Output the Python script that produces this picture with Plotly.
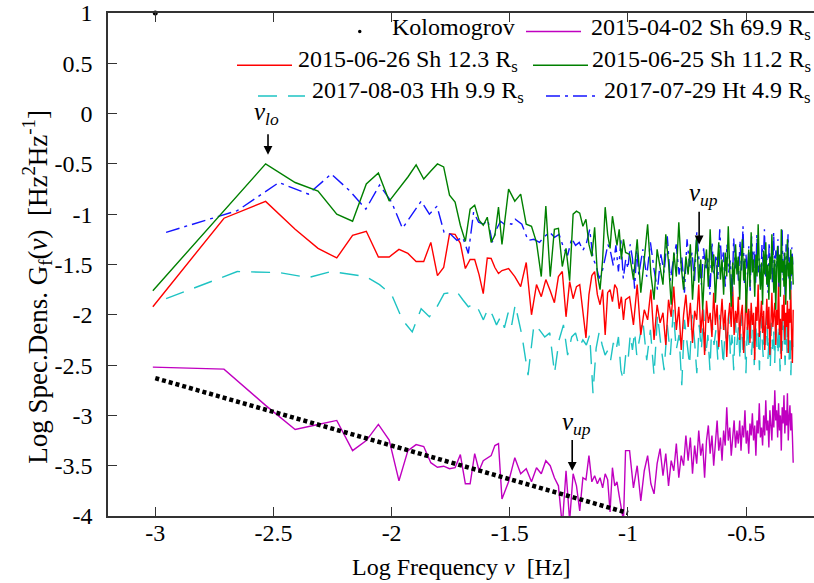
import numpy as np
import plotly.graph_objects as go

# ---------------- data ----------------
# frequency bins: f = k * df  (2015 sets: df = 1/1024 Hz, 2017 sets: df = 1/900 Hz)
K_A = list(range(1, 31)) + list(range(32, 101, 2)) + list(range(104, 513, 4))
K_B = list(range(1, 31)) + list(range(32, 101, 2)) + list(range(104, 451, 4))
DF_A = 1.0 / 1024
DF_B = 1.0 / 900

green_y = [-1.76, -0.97, -0.50, -0.685, -0.77, -1.00, -1.07, -0.70, -0.59, -0.87,
           -0.75, -0.63, -0.51, -0.65, -0.57, -0.50, -0.53, -0.81, -0.88, -1.11,
           -1.27, -0.95, -0.91, -1.06, -1.11, -1.03, -1.28, -1.21, -0.93, -1.30,
           -0.75, -0.87, -0.80, -1.10, -1.12, -1.28, -1.62, -0.92, -1.62, -1.15,
           -1.14, -1.52, -1.34, -1.66, -1.00, -0.97, -0.99, -1.12, -1.05, -1.30,
           -1.42, -1.13, -1.60, -1.75, -1.45, -0.93, -1.20, -1.34, -1.02, -1.15,
           -1.31, -1.15, -1.45, -1.25, -1.38,
           -1.40, -1.65, -1.25, -1.78, -1.45, -1.10, -1.60, -1.85, -1.35, -1.55,
           -1.70, -1.20, -1.48, -1.90, -1.38, -1.62, -1.08, -1.52, -1.75, -1.42,
           -1.60, -1.30, -1.85, -1.50, -1.22, -1.68, -1.45, -1.95, -1.55, -1.35,
           -1.72, -1.15, -1.58, -1.40, -1.88, -1.52, -1.28, -1.65, -1.45, -1.80,
           -1.38, -1.62, -1.12, -1.55, -1.92, -1.48, -1.70, -1.30, -1.60, -1.42,
           -1.85, -1.50, -1.25, -1.66, -1.44, -1.98, -1.55, -1.35, -1.72, -1.18,
           -1.58, -1.45, -1.82, -1.40, -1.62, -1.10, -1.52, -1.75, -1.48, -1.90,
           -1.36, -1.60, -1.28, -1.70, -1.50, -1.85, -1.42, -1.65, -1.20, -1.55,
           -1.78, -1.45, -1.95, -1.52, -1.32, -1.68, -1.40, -1.82, -1.15, -1.58,
           -1.46, -1.72, -1.38, -1.90, -1.55, -1.25, -1.62, -1.48, -1.85, -1.35,
           -1.60, -1.42, -1.70]

red_y = [-1.92, -1.04, -0.873, -1.15, -1.34, -1.435, -1.21, -1.17, -1.425, -1.425,
         -1.35, -1.39, -1.47, -1.47, -1.28, -1.61, -1.53, -1.195, -1.20, -1.29,
         -1.54, -1.45, -1.45, -1.60, -1.79, -1.435, -1.44, -1.53, -1.59, -1.56,
         -1.54, -1.62, -1.72, -1.48, -2.00, -1.70, -1.82, -1.65, -1.76, -1.88,
         -1.62, -1.57, -2.02, -1.67, -1.84, -1.72, -1.70, -1.98, -2.23, -1.80,
         -1.61, -1.57, -1.80, -1.90, -1.75, -2.20, -1.78, -1.75, -1.87, -1.70,
         -1.74, -1.94, -1.82, -2.05, -1.85,
         -1.82, -2.10, -1.70, -2.20, -1.95, -2.05, -1.75, -2.25, -1.90, -2.08,
         -1.98, -2.30, -1.85, -2.02, -1.72, -2.15, -1.92, -2.35, -2.00, -1.80,
         -2.12, -1.88, -2.28, -1.96, -2.05, -1.70, -2.18, -1.94, -2.40, -1.86,
         -2.08, -1.98, -2.22, -1.78, -2.10, -1.90, -2.32, -2.02, -1.84, -2.15,
         -1.95, -2.42, -2.05, -1.88, -2.12, -1.72, -2.20, -1.96, -2.08, -1.82,
         -2.25, -2.00, -1.90, -2.38, -2.04, -1.76, -2.15, -1.94, -2.28, -1.88,
         -2.10, -1.98, -2.45, -1.92, -2.06, -1.70, -2.22, -2.00, -1.86, -2.18,
         -1.96, -2.35, -2.08, -1.84, -2.14, -1.92, -2.40, -1.98, -1.78, -2.12,
         -2.02, -1.88, -2.30, -1.95, -2.10, -1.68, -2.20, -2.04, -2.44, -1.90,
         -2.06, -1.80, -2.25, -1.98, -2.12, -1.86, -2.38, -1.94, -2.08, -1.75,
         -2.20, -2.48, -1.95]

magenta_y = [-2.52, -2.54, -2.90, -3.14, -3.09, -3.05, -3.35, -3.25, -3.09, -3.245,
             -3.65, -3.35, -3.29, -3.31, -3.47, -3.515, -3.505, -3.53, -3.52, -3.39,
             -3.68, -3.68, -3.38, -3.55, -3.45, -3.42, -3.40, -3.30, -3.28, -3.83,
             -3.66, -3.42, -3.58, -3.53, -3.66, -3.52, -3.58, -3.45, -3.50, -3.62,
             -3.70, -4.10, -3.55, -4.05, -3.58, -3.70, -3.95, -3.62, -3.64, -3.40,
             -3.66, -3.60, -3.68, -3.62, -3.72, -3.58, -3.64, -3.96, -3.52, -3.70,
             -3.66, -3.80, -3.95, -4.05, -3.35,
             -3.35, -3.72, -3.50, -3.85, -3.55, -3.40, -3.68, -3.78, -3.48, -3.33,
             -3.60, -3.38, -3.70, -3.45, -3.55, -3.28, -3.62, -3.40, -3.50, -3.20,
             -3.45, -3.22, -3.58, -3.30, -3.48, -3.15, -3.40, -3.28, -3.62, -3.25,
             -3.10, -3.38, -3.20, -3.50, -3.25, -3.05, -3.35, -3.22, -3.45, -3.15,
             -3.30, -2.92, -3.25, -3.12, -3.40, -3.18, -3.05, -3.32, -3.15, -3.28,
             -3.05, -3.35, -3.10, -3.22, -2.95, -3.28, -3.15, -3.38, -3.08, -3.20,
             -2.98, -3.25, -3.10, -3.40, -3.05, -3.18, -2.88, -3.22, -3.12, -3.30,
             -3.00, -3.20, -2.85, -3.15, -3.05, -3.32, -2.95, -3.10, -3.25, -2.90,
             -3.12, -2.75, -3.05, -2.95, -3.22, -2.88, -3.15, -3.00, -3.35, -2.92,
             -3.08, -2.80, -3.18, -2.95, -3.10, -2.78, -3.25, -3.02, -2.90, -3.15,
             -2.98, -3.20, -3.47]

blue_y = [-1.18, -0.965, -0.685, -0.80, -0.60, -0.77, -0.95, -0.71, -0.88, -1.14,
          -1.00, -0.87, -1.00, -0.92, -1.18, -1.20, -1.26, -1.23, -1.39, -0.98,
          -1.08, -1.10, -1.06, -1.28, -1.15, -1.07, -1.10, -1.09, -1.10, -1.05,
          -1.10, -1.26, -1.25, -1.28, -1.22, -1.18, -1.23, -1.20, -1.33, -1.41,
          -1.24, -1.31, -1.28, -1.36, -1.29, -1.15, -1.44, -1.51, -1.64, -1.57,
          -1.44, -1.30, -1.38, -1.51, -1.31, -1.57, -1.26, -1.64, -1.45, -1.54,
          -1.30, -1.44, -1.74, -1.35, -1.60,
          -1.35, -1.62, -1.28, -1.55, -1.75, -1.40, -1.58, -1.22, -1.66, -1.45,
          -1.30, -1.60, -1.42, -1.78, -1.25, -1.52, -1.38, -1.68, -1.18, -1.48,
          -1.70, -1.34, -1.56, -1.44, -1.80, -1.28, -1.60, -1.40, -1.65, -1.15,
          -1.50, -1.38, -1.72, -1.30, -1.58, -1.46, -1.82, -1.24, -1.54, -1.42,
          -1.66, -1.26, -1.56, -1.12, -1.70, -1.40, -1.60, -1.32, -1.76, -1.22,
          -1.48, -1.36, -1.68, -1.20, -1.58, -1.44, -1.74, -1.30, -1.52, -1.15,
          -1.62, -1.40, -1.78, -1.28, -1.55, -1.45, -1.70, -1.18, -1.60, -1.36,
          -1.50, -1.25, -1.72, -1.42, -1.58, -1.14, -1.66, -1.38, -1.80, -1.30,
          -1.55, -1.20, -1.64, -1.42, -1.75, -1.33, -1.50]

cyan_y = [-1.84, -1.57, -1.58, -1.63, -1.57, -1.60, -1.62, -1.70, -1.80, -2.05,
          -2.17, -1.94, -2.02, -1.92, -1.79, -1.78, -1.77, -1.85, -1.92, -1.89,
          -1.95, -2.05, -1.94, -2.00, -2.10, -2.02, -2.13, -1.98, -2.10, -1.90,
          -2.20, -2.60, -2.10, -2.15, -2.22, -2.18, -2.58, -2.25, -2.10, -2.40,
          -2.22, -2.18, -2.32, -2.25, -2.30, -2.20, -2.78, -2.33, -2.17, -2.30,
          -2.40, -2.35, -2.45, -2.28, -2.36, -2.22, -2.55, -2.65, -2.40, -2.46,
          -2.20, -2.35, -2.17, -2.40, -2.28,
          -2.05, -2.45, -2.15, -2.60, -2.00, -2.30, -2.55, -2.10, -2.40, -1.95,
          -2.35, -2.20, -2.70, -2.05, -2.30, -2.50, -2.00, -2.25, -2.58, -2.10,
          -2.35, -1.95, -2.40, -2.20, -2.55, -2.05, -2.30, -2.15, -2.45, -2.00,
          -2.25, -2.50, -2.10, -2.35, -1.98, -2.40, -2.20, -2.55, -2.05, -2.30,
          -2.12, -2.45, -2.00, -2.35, -2.22, -2.58, -2.08, -2.30, -1.95, -2.40,
          -2.15, -2.50, -2.05, -2.32, -2.18, -2.55, -2.00, -2.25, -2.42, -2.10,
          -2.30, -1.96, -2.44, -2.20, -2.52, -2.08, -2.34, -2.15, -2.48, -2.02,
          -2.28, -2.40, -2.10, -2.56, -2.18, -2.36, -1.98, -2.30, -2.50, -2.12,
          -2.38, -2.05, -2.46, -2.20, -2.60, -2.14, -2.32]

kolmo_x = [-3.0, -1.0]
kolmo_y = [-2.63, -3.97]
stray_x = [-3.0]
stray_y = [1.0]

# arrows: (x, y_tip, y_tail)
nu_lo = (-2.523, -0.41, -0.19)
nu_up_hi = (-0.699, -1.30, -0.96)
nu_up_lo = (-1.236, -3.55, -3.23)

XT = [-3, -2.5, -2, -1.5, -1, -0.5]
XT_TXT = ["-3", "-2.5", "-2", "-1.5", "-1", "-0.5"]
YT = [1, 0.5, 0, -0.5, -1, -1.5, -2, -2.5, -3, -3.5, -4]
YT_TXT = ["1", "0.5", "0", "-0.5", "-1", "-1.5", "-2", "-2.5", "-3", "-3.5", "-4"]

labels = ["Kolomogrov", "2015-04-02 Sh 69.9 R<sub>s</sub>", "2015-06-26 Sh 12.3 R<sub>s</sub>",
          "2015-06-25 Sh 11.2 R<sub>s</sub>", "2017-08-03 Hh 9.9 R<sub>s</sub>",
          "2017-07-29 Ht 4.9 R<sub>s</sub>"]

# ---------------- figure ----------------
xA = np.log10(np.array(K_A) * DF_A)
xB = np.log10(np.array(K_B) * DF_B)

FONT = "Liberation Serif"
CYAN, RED, BLUE, GREEN, MAG = "#1ec3c3", "#ff0000", "#1414ff", "#008000", "#c000c0"
fig = go.Figure()

fig.add_trace(go.Scatter(x=xB, y=cyan_y, mode="lines",
                         line=dict(color=CYAN, width=1.4, dash="19px,11px")))
fig.add_trace(go.Scatter(x=xA, y=red_y, mode="lines", line=dict(color=RED, width=1.4)))
fig.add_trace(go.Scatter(x=xB, y=blue_y, mode="lines",
                         line=dict(color=BLUE, width=1.4, dash="14px,5px,3px,5px")))
fig.add_trace(go.Scatter(x=xA, y=green_y, mode="lines", line=dict(color=GREEN, width=1.4)))
fig.add_trace(go.Scatter(x=xA, y=magenta_y, mode="lines", line=dict(color=MAG, width=1.4)))
fig.add_trace(go.Scatter(x=kolmo_x, y=kolmo_y, mode="lines",
                         line=dict(color="black", width=4.5, dash="4px,3px")))
fig.add_trace(go.Scatter(x=stray_x, y=stray_y, mode="markers", cliponaxis=False,
                         marker=dict(color="black", size=5)))

L, R, T, B = 108, 814, 9, 516


def px(xp):
    return (xp - L) / (R - L)


def py(yp):
    return (B - yp) / (B - T)


def label(xp, yp, text, xanchor="center", angle=0, size=24):
    fig.add_annotation(x=px(xp), y=py(yp), xref="paper", yref="paper", showarrow=False,
                       xanchor=xanchor, yanchor="middle", textangle=angle, text=text,
                       font=dict(family=FONT, size=size, color="black"))


# arrows and labels
for (ax_, tip, tail) in [nu_lo, nu_up_hi, nu_up_lo]:
    fig.add_annotation(x=ax_, y=tip, ax=ax_, ay=tail, xref="x", yref="y", axref="x", ayref="y",
                       text="", showarrow=True, arrowhead=2, arrowsize=1.1, arrowwidth=1.6,
                       arrowcolor="black")
label(266, 110, "<i>ν</i><sub><i>lo</i></sub>", size=25)
label(703, 192, "<i>ν</i><sub><i>up</i></sub>", size=25)
label(576, 423, "<i>ν</i><sub><i>up</i></sub>", size=25)

# legend (gnuplot style: sample left of right-justified text)
leg_text = [(labels[0], 517, 23), (labels[1], 813, 25), (labels[2], 520, 57.5),
            (labels[3], 813, 57.5), (labels[4], 526, 88.5), (labels[5], 813, 88.5)]
for t, xr, yc in leg_text:
    label(xr, yc, t, xanchor="right")
samples = [(526, 581, 27.7, MAG, None), (237, 292, 61.7, RED, None),
           (533, 588, 61.7, GREEN, None), (258, 305, 92.7, CYAN, "19px,11px"),
           (546, 599, 92.7, BLUE, "14px,5px,3px,5px")]
for x0, x1, yy, c, d in samples:
    ln = dict(color=c, width=1.4)
    if d:
        ln["dash"] = d
    fig.add_shape(type="line", xref="paper", yref="paper", x0=px(x0), x1=px(x1),
                  y0=py(yy), y1=py(yy), line=ln)
fig.add_shape(type="circle", xref="paper", yref="paper", x0=px(358), x1=px(361.5),
              y0=py(29.4), y1=py(25.9), fillcolor="black", line=dict(color="black", width=0))

# axis titles
label(461, 567, "Log Frequency <i>ν</i>\u00a0\u00a0[Hz]")
label(37, 285, "Log Spec.Dens. G<sub>f</sub>(<i>ν</i>)\u00a0\u00a0[Hz<sup>2</sup>Hz<sup>-1</sup>]",
      angle=-90, size=27)

fig.update_layout(width=814, height=583, margin=dict(l=L, r=814 - R, t=T, b=583 - B),
                  plot_bgcolor="white", paper_bgcolor="white", showlegend=False,
                  font=dict(family=FONT, size=24, color="black"))
fig.update_xaxes(range=[-3.2, -0.213], tickvals=XT, ticktext=XT_TXT, ticks="inside", ticklen=9,
                 tickcolor="#333", tickwidth=1.3, showline=True, linecolor="#333", linewidth=1.5,
                 mirror="ticks", showgrid=False, zeroline=False, ticklabelstandoff=-6,
                 ticklabeloverflow="allow", tickfont=dict(family=FONT, size=24))
fig.update_yaxes(range=[-4, 1], tickvals=YT, ticktext=YT_TXT, ticks="inside", ticklen=9,
                 tickcolor="#333", tickwidth=1.3, showline=True, linecolor="#333", linewidth=1.5,
                 mirror=False, showgrid=False, zeroline=False, ticklabelstandoff=9,
                 ticklabeloverflow="allow", tickfont=dict(family=FONT, size=24))

fig.write_html("out.html")
